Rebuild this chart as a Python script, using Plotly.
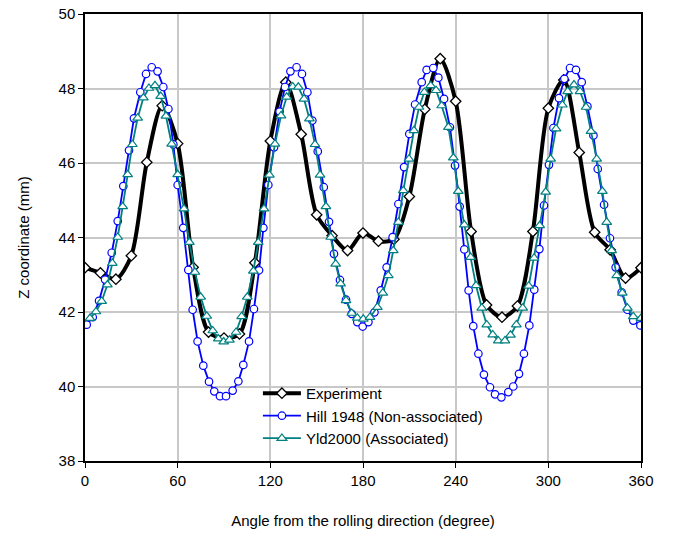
import plotly.graph_objects as go

# Experiment (every 10 degrees)
exp_x = [0, 10, 20, 30, 40, 50, 60, 70, 80, 90, 100, 110, 120, 130, 140, 150, 160, 170, 180,
         190, 200, 210, 220, 230, 240, 250, 260, 270, 280, 290, 300, 310, 320, 330, 340, 350, 360]
exp_y = [43.19, 43.05, 42.88, 43.51, 46.02, 47.54, 46.52, 43.20, 41.46, 41.30, 41.41, 43.32, 46.59,
         48.17, 46.77, 44.61, 44.05, 43.65, 44.12, 43.90, 43.95, 45.10, 47.44, 48.80, 47.66, 44.16,
         42.19, 41.86, 42.16, 44.16, 47.47, 48.23, 46.28, 44.14, 43.67, 42.91, 43.19]

# Hill 1948 (Non-associated)
hill_x = [1.1, 5.0, 9.1, 13.0, 17.3, 21.2, 24.8, 28.5, 31.7, 35.8, 39.5, 43.2, 47.0, 50.7, 54.0,
          57.2, 60.0, 63.6, 66.9, 69.7, 72.9, 76.6, 80.3, 83.7, 87.4, 91.3, 95.6, 99.3, 102.5,
          106.2, 109.4, 112.7, 115.5, 118.7, 122.4, 126.0, 129.5, 133.0, 137.0, 140.5, 144.0,
          147.2, 150.7, 154.6, 158.0, 161.2, 165.1, 169.0, 172.7, 176.3, 179.8, 183.5, 187.4,
          191.5, 195.3, 199.2, 202.9, 206.6, 210.0, 213.7, 218.0, 221.2, 225.5, 228.8, 232.5,
          236.3, 239.6, 242.6, 245.6, 248.4, 251.4, 254.7, 258.3, 262.2, 265.5, 269.6, 274.1,
          277.3, 281.0, 284.2, 287.7, 290.9, 294.2, 297.2, 300.4, 303.3, 306.9, 310.4, 314.0,
          317.9, 321.6, 325.3, 329.2, 332.0, 336.1, 339.9, 343.6, 347.5, 351.2, 355.0, 359.6]
hill_y = [41.66, 41.86, 42.30, 42.87, 43.59, 44.44, 45.38, 46.34, 47.20, 47.90, 48.39, 48.57,
          48.46, 48.04, 47.45, 46.50, 45.41, 44.26, 43.13, 42.06, 41.21, 40.56, 40.13, 39.87,
          39.74, 39.74, 39.89, 40.14, 40.58, 41.21, 42.08, 43.12, 44.26, 45.41, 46.42, 47.38,
          48.04, 48.46, 48.57, 48.39, 47.90, 47.14, 46.31, 45.35, 44.42, 43.56, 42.86, 42.33,
          41.95, 41.73, 41.61, 41.73, 41.99, 42.58, 43.20, 44.01, 44.90, 45.89, 46.78, 47.57,
          48.17, 48.50, 48.55, 48.29, 47.72, 46.96, 45.93, 44.83, 43.68, 42.58, 41.62, 40.88,
          40.32, 39.98, 39.79, 39.71, 39.85, 40.00, 40.34, 40.88, 41.64, 42.60, 43.69, 44.86,
          45.95, 46.94, 47.74, 48.26, 48.55, 48.50, 48.17, 47.52, 46.74, 45.84, 44.88, 43.98,
          43.20, 42.53, 42.06, 41.77, 41.64]

# Yld2000 (Associated)
yld_x = [3.2, 7.1, 10.8, 14.5, 17.7, 21.2, 24.4, 27.6, 30.7, 34.1, 37.8, 41.4, 45.3, 49.0, 52.4,
         56.1, 60.0, 64.1, 67.6, 71.2, 74.9, 78.8, 82.7, 86.3, 89.8, 93.5, 97.8, 101.4, 105.1,
         109.0, 112.2, 115.9, 119.4, 123.0, 126.9, 130.6, 134.5, 138.1, 141.8, 145.3, 148.9,
         152.2, 156.0, 159.1, 162.3, 165.5, 169.0, 172.7, 176.3, 180.2, 184.5, 189.3, 192.8,
         196.4, 199.6, 202.9, 206.1, 209.8, 213.0, 216.3, 219.7, 223.8, 227.3, 230.9, 235.3,
         238.5, 241.7, 245.6, 249.7, 253.2, 256.9, 260.1, 264.0, 267.6, 271.9, 275.5, 279.3,
         283.4, 287.3, 290.8, 294.4, 298.3, 301.5, 305.0, 309.1, 312.5, 316.6, 320.5, 324.4,
         327.6, 331.3, 335.0, 337.8, 341.0, 344.3, 347.9, 351.2, 355.0, 360.0]
yld_y = [41.83, 42.01, 42.29, 42.73, 43.31, 44.01, 44.83, 45.69, 46.50, 47.21, 47.75, 48.01,
         48.08, 47.79, 47.26, 46.51, 45.69, 44.77, 43.87, 43.07, 42.40, 41.89, 41.50, 41.28,
         41.20, 41.25, 41.46, 41.88, 42.40, 43.10, 43.87, 44.77, 45.68, 46.51, 47.27, 47.77,
         48.05, 48.04, 47.72, 47.19, 46.50, 45.68, 44.83, 44.01, 43.29, 42.76, 42.31, 41.97,
         41.84, 41.81, 41.86, 42.13, 42.51, 42.98, 43.65, 44.41, 45.26, 46.11, 46.87, 47.50,
         47.90, 48.08, 47.95, 47.54, 46.96, 46.14, 45.24, 44.34, 43.47, 42.71, 42.11, 41.66,
         41.39, 41.23, 41.23, 41.38, 41.66, 42.11, 42.70, 43.45, 44.32, 45.22, 46.11, 46.92,
         47.56, 47.92, 48.10, 47.92, 47.50, 46.85, 46.11, 45.24, 44.41, 43.65, 42.98, 42.51,
         42.11, 41.88, 41.83]

x_ticks = [0, 60, 120, 180, 240, 300, 360]
y_ticks = [38, 40, 42, 44, 46, 48, 50]

FONT = "Liberation Sans, Arial, sans-serif"

fig = go.Figure()
fig.add_trace(go.Scatter(
    x=exp_x, y=exp_y, name="Experiment", mode="lines+markers",
    line=dict(color="black", width=4, shape="spline", smoothing=0.8),
    marker=dict(symbol="diamond", size=8, color="white", line=dict(color="black", width=1.3)),
))
fig.add_trace(go.Scatter(
    x=hill_x, y=hill_y, name="Hill 1948 (Non-associated)", mode="lines+markers",
    line=dict(color="#0000ff", width=1.8),
    marker=dict(symbol="circle", size=7.5, color="white", line=dict(color="#0000ff", width=1.2)),
))
fig.add_trace(go.Scatter(
    x=yld_x, y=yld_y, name="Yld2000 (Associated)", mode="lines+markers",
    line=dict(color="#008080", width=1.8),
    marker=dict(symbol="triangle-up", size=8.5, color="white", line=dict(color="#008080", width=1.2)),
))

axis_common = dict(
    showline=True, linecolor="black", linewidth=1.5, mirror=True,
    ticks="outside", ticklen=5, tickcolor="black", tickwidth=1.2,
    showgrid=True, gridcolor="#c8c8c8", gridwidth=1.5, zeroline=False,
    tickfont=dict(family=FONT, size=15, color="black"),
    automargin=False,
)

fig.update_xaxes(range=[0, 360], tickvals=x_ticks,
                 title=dict(text="Angle from the rolling direction (degree)",
                            font=dict(family=FONT, size=15, color="black"), standoff=28),
                 **axis_common)
fig.update_yaxes(range=[38, 50], tickvals=y_ticks,
                 title=dict(text="Z coordinate (mm)",
                            font=dict(family=FONT, size=15, color="black"), standoff=25),
                 **axis_common)

fig.update_layout(
    width=675, height=539,
    margin=dict(l=85, r=34, t=14, b=78),
    paper_bgcolor="white", plot_bgcolor="white",
    showlegend=True,
    legend=dict(x=0.311, y=0.188, xanchor="left", yanchor="top",
                bgcolor="rgba(0,0,0,0)", borderwidth=0,
                font=dict(family=FONT, size=15, color="black"),
                itemwidth=38, tracegroupgap=0),
    font=dict(family=FONT),
)

fig.write_html("out.html", config={"displayModeBar": False},
               post_script="document.body.style.margin='0px';")
